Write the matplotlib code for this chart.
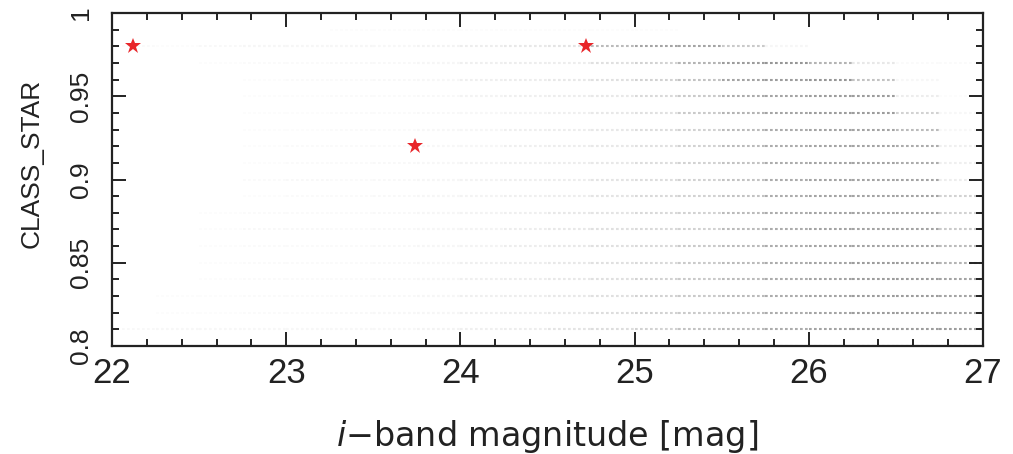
import numpy as np
import matplotlib
matplotlib.use('Agg')
import matplotlib.pyplot as plt
from matplotlib.ticker import MultipleLocator

# magnitude bins (0.25 mag wide) used for the background source density
mag_edges = np.arange(22.0, 27.01, 0.25)

# CLASS_STAR levels of the catalogue rows
class_levels = [0.99, 0.98, 0.97, 0.96, 0.95, 0.94, 0.93, 0.92, 0.91, 0.90,
	0.89, 0.88, 0.87, 0.86, 0.85, 0.84, 0.83, 0.82, 0.81, 0.80]

# relative density of catalogue sources per row and magnitude bin
density = [
	[0, 0, 0, 0, 0, 0.02, 0.02, 0.02, 0.02, 0.02, 0.02, 0.02, 0.02, 0, 0, 0, 0, 0, 0, 0],
	[0.03, 0.02, 0.04, 0.06, 0.06, 0.06, 0.05, 0.08, 0.12, 0.15, 0.18, 0.45, 0.6, 0.6, 0.35, 0.06, 0, 0, 0, 0],
	[0, 0, 0.02, 0.03, 0.03, 0.04, 0.04, 0.06, 0.1, 0.12, 0.12, 0.2, 0.3, 0.5, 0.65, 0.7, 0.5, 0.15, 0.03, 0.03],
	[0, 0, 0, 0.02, 0.03, 0.03, 0.04, 0.05, 0.1, 0.12, 0.15, 0.2, 0.3, 0.4, 0.6, 0.65, 0.7, 0.4, 0.05, 0],
	[0, 0, 0, 0.02, 0.02, 0.03, 0.03, 0.04, 0.08, 0.1, 0.12, 0.15, 0.25, 0.35, 0.55, 0.6, 0.65, 0.65, 0.12, 0.02],
	[0, 0, 0, 0.02, 0.02, 0.03, 0.03, 0.04, 0.05, 0.08, 0.1, 0.15, 0.2, 0.35, 0.5, 0.6, 0.65, 0.65, 0.3, 0.05],
	[0, 0, 0, 0.02, 0.02, 0.03, 0.03, 0.05, 0.06, 0.1, 0.12, 0.15, 0.22, 0.3, 0.45, 0.55, 0.6, 0.6, 0.45, 0.05],
	[0, 0, 0, 0.02, 0.03, 0.03, 0.03, 0.05, 0.06, 0.1, 0.12, 0.15, 0.2, 0.3, 0.45, 0.55, 0.6, 0.6, 0.55, 0.1],
	[0, 0, 0, 0.02, 0.03, 0.03, 0.04, 0.05, 0.08, 0.1, 0.12, 0.15, 0.22, 0.3, 0.4, 0.55, 0.6, 0.6, 0.55, 0.1],
	[0, 0, 0, 0.03, 0.04, 0.03, 0.04, 0.06, 0.08, 0.1, 0.12, 0.18, 0.22, 0.3, 0.4, 0.55, 0.6, 0.6, 0.6, 0.12],
	[0, 0, 0, 0.02, 0.03, 0.03, 0.04, 0.06, 0.08, 0.1, 0.12, 0.18, 0.25, 0.3, 0.4, 0.55, 0.6, 0.6, 0.6, 0.3],
	[0, 0, 0.02, 0.03, 0.03, 0.03, 0.04, 0.06, 0.08, 0.1, 0.15, 0.18, 0.25, 0.3, 0.45, 0.55, 0.6, 0.6, 0.6, 0.3],
	[0, 0, 0.02, 0.04, 0.04, 0.03, 0.04, 0.06, 0.08, 0.12, 0.15, 0.2, 0.25, 0.3, 0.45, 0.55, 0.6, 0.6, 0.6, 0.35],
	[0, 0, 0.02, 0.03, 0.03, 0.03, 0.04, 0.06, 0.08, 0.12, 0.15, 0.2, 0.25, 0.35, 0.45, 0.55, 0.6, 0.6, 0.6, 0.45],
	[0, 0, 0.02, 0.03, 0.03, 0.03, 0.04, 0.06, 0.1, 0.12, 0.15, 0.2, 0.25, 0.35, 0.45, 0.55, 0.6, 0.65, 0.65, 0.5],
	[0, 0, 0.02, 0.03, 0.03, 0.03, 0.04, 0.06, 0.1, 0.12, 0.15, 0.2, 0.3, 0.35, 0.45, 0.55, 0.6, 0.65, 0.65, 0.6],
	[0, 0.02, 0.02, 0.03, 0.03, 0.03, 0.04, 0.06, 0.1, 0.12, 0.15, 0.2, 0.3, 0.35, 0.45, 0.55, 0.6, 0.65, 0.65, 0.6],
	[0, 0.02, 0.02, 0.03, 0.03, 0.04, 0.05, 0.06, 0.1, 0.12, 0.15, 0.22, 0.3, 0.35, 0.45, 0.55, 0.6, 0.65, 0.65, 0.6],
	[0.04, 0.05, 0.05, 0.05, 0.05, 0.05, 0.05, 0.08, 0.1, 0.12, 0.18, 0.22, 0.3, 0.4, 0.45, 0.55, 0.6, 0.65, 0.65, 0.65],
	[0.04, 0.05, 0.05, 0.05, 0.05, 0.05, 0.05, 0.08, 0.1, 0.12, 0.18, 0.22, 0.3, 0.4, 0.45, 0.55, 0.6, 0.65, 0.65, 0.65],
]

# highlighted objects
star_mag = [22.12, 23.74, 24.72]
star_class = [0.98, 0.92, 0.98]

xticks = [22, 23, 24, 25, 26, 27]
xtick_labels = ['22', '23', '24', '25', '26', '27']
yticks = [0.8, 0.85, 0.9, 0.95, 1.0]
ytick_labels = ['0.8', '0.85', '0.9', '0.95', '1']

narrow = ['Liberation Sans Narrow', 'Liberation Sans', 'DejaVu Sans']

fig = plt.figure(figsize=(10.13, 4.54), dpi=100)
ax = fig.add_axes([0.1106, 0.238, 0.8598, 0.733])

# background catalogue: one dotted row per CLASS_STAR level, shaded by density
for level, row in zip(class_levels, density):
	for lo, hi, d in zip(mag_edges[:-1], mag_edges[1:], row):
		if d <= 0:
			continue
		ax.hlines(level, lo, hi, colors='#707070', alpha=min(d * 1.05, 1.0),
			linewidth=1.5, linestyles=(0, (1.3, 1.1)), zorder=1)

ax.plot(star_mag, star_class, linestyle='none', marker='*', markersize=12,
	color='#e8262a', markeredgewidth=0, zorder=3)

ax.set_xlim(22, 27)
ax.set_ylim(0.8, 1.0)

ax.set_xticks(xticks)
ax.set_xticklabels(xtick_labels, fontsize=25, family=narrow, color='#222222')
ax.set_yticks(yticks)
ax.set_yticklabels(ytick_labels, fontsize=19, family=narrow,
	rotation=90, va='center', color='#222222')
ax.xaxis.set_minor_locator(MultipleLocator(0.2))
ax.yaxis.set_minor_locator(MultipleLocator(0.01))

ax.tick_params(which='both', direction='in', top=True, right=True, width=1.4, color='#222222')
ax.tick_params(which='major', length=10)
ax.tick_params(which='minor', length=5)
ax.tick_params(axis='x', which='major', pad=8)
ax.tick_params(axis='y', which='major', pad=14)

for side in ax.spines.values():
	side.set_linewidth(1.6)
	side.set_color('#222222')

ax.set_xlabel(r'$i$' + '\u2212band magnitude [mag]', fontsize=24,
	family='DejaVu Sans', color='#222222', labelpad=20)
ax.set_ylabel('CLASS_STAR', fontsize=19, family=narrow, color='#222222')
ax.yaxis.set_label_coords(-0.078, 0.55)

fig.savefig('out.png', dpi=100)
plt.close(fig)
